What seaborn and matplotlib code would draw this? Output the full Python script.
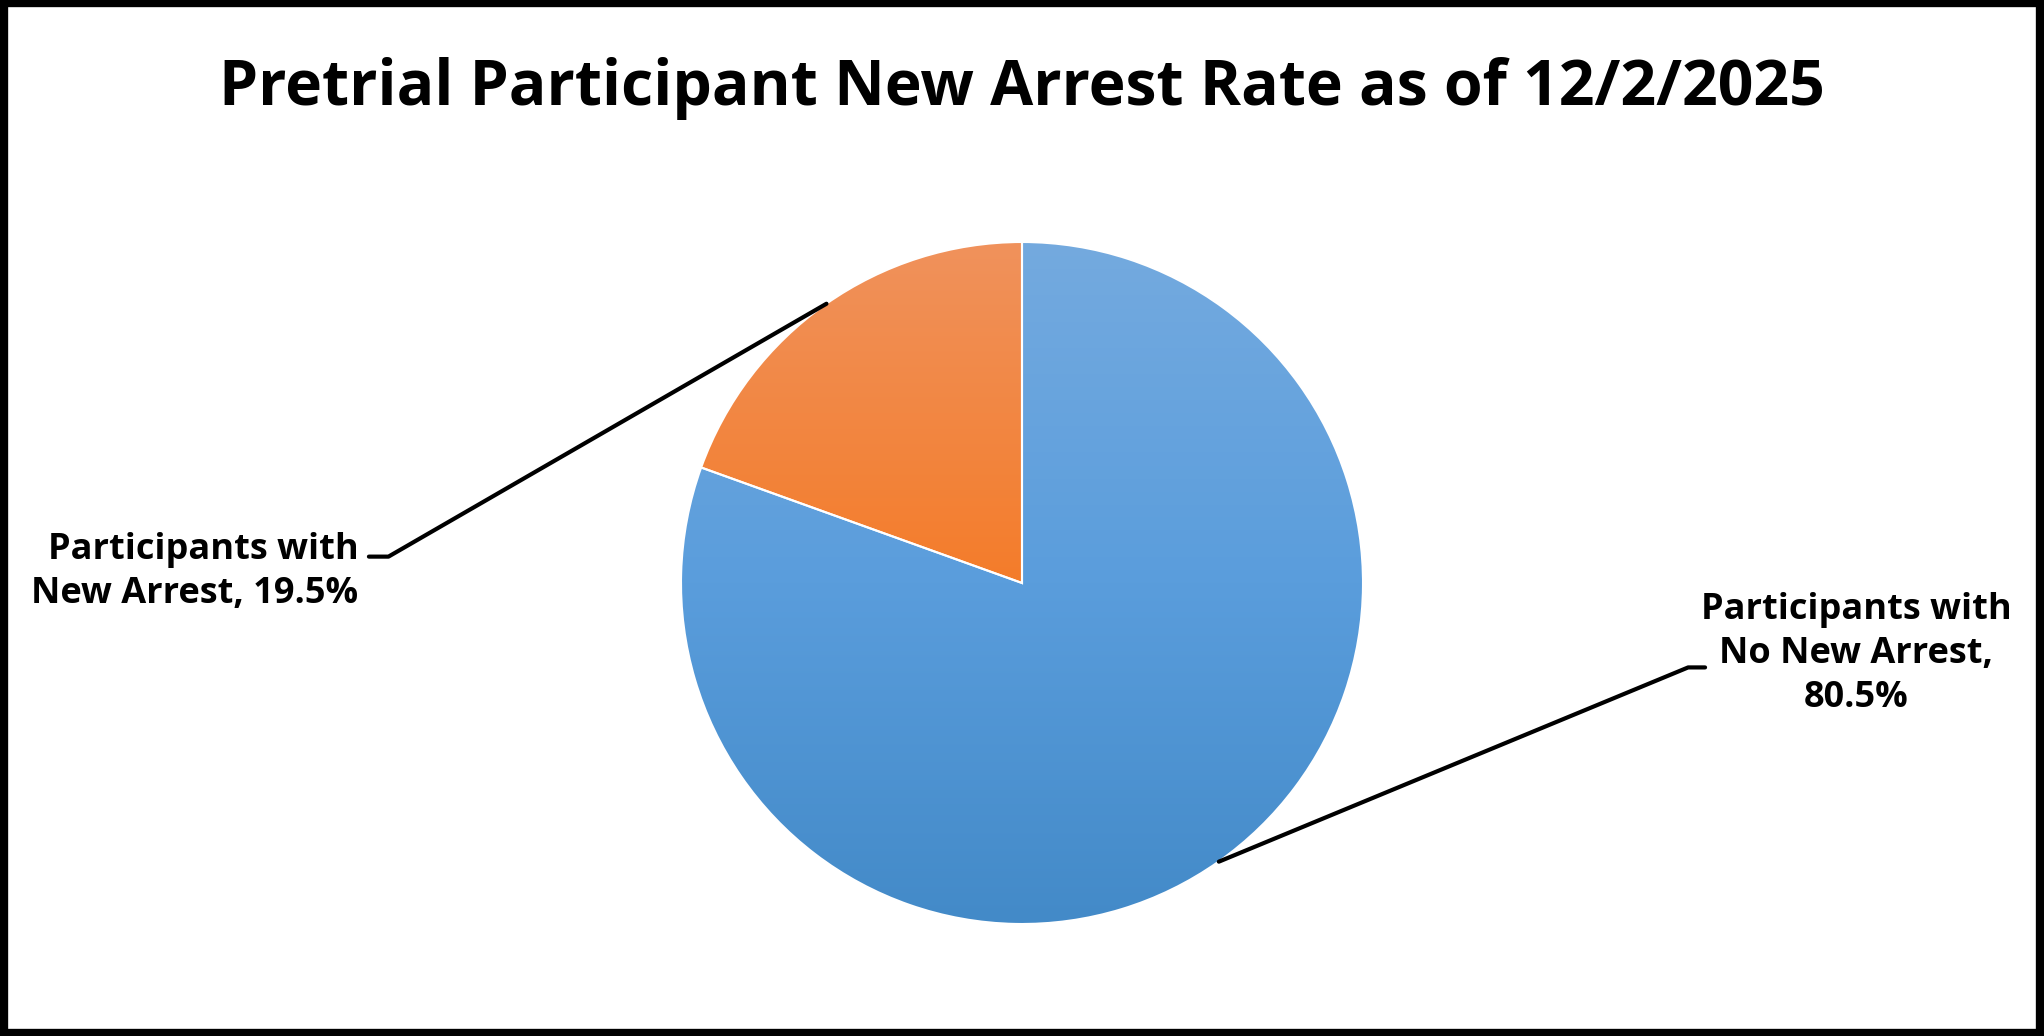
import numpy as np
import matplotlib
matplotlib.use("Agg")
import matplotlib.pyplot as plt
import seaborn as sns
from matplotlib.colors import LinearSegmentedColormap
from matplotlib.lines import Line2D
from matplotlib.patches import Rectangle

categories = ["Participants with\nNew Arrest", "Participants with\nNo New Arrest"]
values = [19.5, 80.5]
title = "Pretrial Participant New Arrest Rate as of 12/2/2025"
grad_colors = [("#f0925c", "#f47c2a", "#e2651a"), ("#74aadf", "#5a9ddc", "#438ac8")]

sns.set_theme(style="white")
plt.rcParams['font.family'] = ['Open Sans', 'DejaVu Sans']
plt.rcParams['text.color'] = 'black'

W, H = 2044, 1036
fig = plt.figure(figsize=(W / 100, H / 100), dpi=100)
fig.patch.set_facecolor("white")

r = 341
cx, cy = 1022, 583
ax = fig.add_axes([(cx - r) / W, 1 - (cy + r) / H, 2 * r / W, 2 * r / H])
wedges, _ = ax.pie(values, startangle=90, counterclock=True,
                   wedgeprops=dict(linewidth=1.5, edgecolor="white"))
grad = np.linspace(0, 1, 256).reshape(-1, 1)
for w, cols in zip(wedges, grad_colors):
    cmap = LinearSegmentedColormap.from_list("g", list(cols))
    im = ax.imshow(grad, cmap=cmap, extent=[-1, 1, -1, 1], origin="upper",
                   aspect="auto", zorder=w.get_zorder())
    im.set_clip_path(w)
    w.set_facecolor("none")
    w.set_zorder(w.get_zorder() + 1)
ax.set_xlim(-1.0, 1.0); ax.set_ylim(-1.0, 1.0); ax.set_aspect("equal")
ax.axis("off")

s = 2044 / 1568
def fx(x): return x * s / W
def fy(y): return 1 - y * s / H

fig.text(0.5, fy(68), title, ha="center", va="center", fontsize=45, fontweight="bold", color="black")

fig.add_artist(Line2D([fx(634), fx(298), fx(283)], [fy(233), fy(427), fy(427)],
                      color="black", lw=3, transform=fig.transFigure))
fig.add_artist(Line2D([fx(935), fx(1295), fx(1308)], [fy(661), fy(512), fy(512)],
                      color="black", lw=3, transform=fig.transFigure))

fig.text(fx(275), fy(439), f"{categories[0]}, {values[0]}%", ha="right", va="center",
         fontsize=26, fontweight="bold", linespacing=1.3, color="black")
fig.text(fx(1424), fy(502), "Participants with\nNo New Arrest,\n" + f"{values[1]}%",
         ha="center", va="center", fontsize=26, fontweight="bold", linespacing=1.3, color="black")

fig.add_artist(Rectangle((0.002, 0.003), 0.996, 0.994, transform=fig.transFigure,
                         fill=False, edgecolor="black", lw=6))
fig.savefig("out.png", dpi=100)
